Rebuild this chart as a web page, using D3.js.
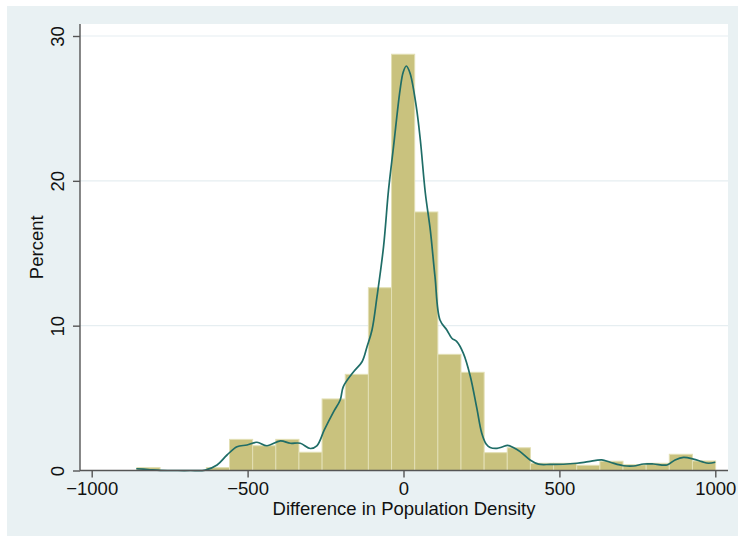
<!DOCTYPE html>
<html>
<head>
<meta charset="utf-8">
<script src="https://cdn.jsdelivr.net/npm/d3@7"></script>
<style>
  body { margin: 0; background: #fff; }
  text { font-family: Arial, 'Liberation Sans', Helvetica, sans-serif; fill: #111; }
</style>
</head>
<body>
<div class="chart-container"></div>
<script>
// histogram: 25 bins from binStart, percent in each
const binStart = -855
const binWidth = 74.24
const binPercent = [0.2, 0, 0, 0.2, 2.15, 1.71, 2.15, 1.26, 4.94, 6.64, 12.62, 28.74, 17.85,
  8.02, 6.78, 1.23, 1.57, 0.5, 0.5, 0.36, 0.64, 0.4, 0.5, 1.12, 0.66]

// kernel density, scaled to percent
const densX = [-857, -819, -780, -732, -684, -636, -598, -566, -534, -502, -470, -438, -395,
  -363, -331, -299, -278, -254, -224, -203, -193, -160, -133, -117, -101, -85, -64, -48, -32,
  -11, -1, 9, 21, 41, 54, 70, 86, 101, 117, 139, 155, 171, 192, 214, 235, 251, 265, 278, 300,
  316, 334, 352, 374, 406, 433, 470, 513, 556, 593, 636, 663, 706, 738, 770, 802, 845, 871,
  898, 930, 957, 978, 1000]
const densY = [0.12, 0.07, 0.01, 0, 0, 0.03, 0.38, 1.07, 1.64, 1.76, 1.95, 1.71, 2.04,
  1.88, 1.88, 1.52, 1.7, 2.8, 4.06, 4.87, 5.79, 6.82, 7.51, 8.55, 9.7, 12.0, 15.46, 19.37, 22.36,
  26.28, 27.5, 27.93, 27.43, 25.12, 22.82, 19.16, 16.6, 13.38, 10.39, 9.7, 9.13, 8.9, 8.09, 6.53,
  4.32, 2.57, 1.83, 1.59, 1.53, 1.62, 1.74, 1.59, 1.3, 0.73, 0.44, 0.42, 0.43, 0.5, 0.61, 0.73,
  0.57, 0.33, 0.31, 0.45, 0.45, 0.38, 0.73, 0.91, 0.79, 0.61, 0.5, 0.57]

const xTicks = [-1000, -500, 0, 500, 1000]
const yTicks = [0, 10, 20, 30]

const width = 738
const height = 539
const plot = { left: 80, right: 728, top: 24, bottom: 470.5 }
const fontSize = 18.5

const svg = d3
  .select('.chart-container')
  .append('svg')
  .attr('width', width)
  .attr('height', height)

const x = d3.scaleLinear().domain([-1000, 1000]).range([91.7, 715.3])
const y = d3.scaleLinear().domain([0, 30]).range([plot.bottom, 36])

// graph region + plot region
svg.append('rect')
  .attr('x', 7).attr('y', 6)
  .attr('width', width - 7).attr('height', 530)
  .attr('fill', '#e9f1f3')
svg.append('rect')
  .attr('x', plot.left).attr('y', plot.top)
  .attr('width', plot.right - plot.left).attr('height', plot.bottom - plot.top)
  .attr('fill', '#fff')

// gridlines
svg.append('g')
  .selectAll('line')
  .data(yTicks.slice(1))
  .enter()
  .append('line')
  .attr('x1', plot.left).attr('x2', plot.right)
  .attr('y1', (d) => y(d)).attr('y2', (d) => y(d))
  .attr('stroke', '#e6eef1')
  .attr('stroke-width', 1.2)

// bars
svg.append('g')
  .selectAll('rect')
  .data(binPercent.map((p, i) => ({ x0: binStart + i * binWidth, p })))
  .enter()
  .filter((d) => d.p > 0)
  .append('rect')
  .attr('x', (d) => x(d.x0))
  .attr('width', (d) => x(d.x0 + binWidth) - x(d.x0))
  .attr('y', (d) => y(d.p))
  .attr('height', (d) => y(0) - y(d.p))
  .attr('fill', '#c9c27e')
  .attr('stroke', '#e2dfb4')
  .attr('stroke-width', 1)

// density line
const line = d3
  .line()
  .x((d) => x(d[0]))
  .y((d) => y(d[1]))
  .curve(d3.curveCatmullRom)

svg.append('path')
  .datum(densX.map((v, i) => [v, densY[i]]))
  .attr('d', line)
  .attr('fill', 'none')
  .attr('stroke', '#1f6d67')
  .attr('stroke-width', 1.7)

// axes
const axisColor = '#555'
const xAxis = svg.append('g').attr('transform', `translate(0,${plot.bottom})`)
  .call(d3.axisBottom(x).tickValues(xTicks).tickSize(7).tickFormat((d) => d3.format('')(d).replace('-', '\u2013')))
xAxis.select('.domain').attr('d', `M${plot.left},0H${plot.right}`)
xAxis.selectAll('line, path').attr('stroke', axisColor).attr('stroke-width', 1.4)
xAxis.selectAll('text').attr('font-size', fontSize).attr('fill', '#111').attr('dy', null).attr('y', 24.5)

const yAxis = svg.append('g').attr('transform', `translate(${plot.left},0)`)
  .call(d3.axisLeft(y).tickValues(yTicks).tickSize(7))
yAxis.select('.domain').attr('d', `M0,${plot.top}V${plot.bottom}`)
yAxis.selectAll('line, path').attr('stroke', axisColor).attr('stroke-width', 1.4)
yAxis.selectAll('text')
  .attr('font-size', fontSize).attr('fill', '#111')
  .attr('x', null).attr('dy', null)
  .attr('text-anchor', 'middle')
  .attr('transform', 'translate(-16,0) rotate(-90)')

// titles
svg.append('text')
  .attr('x', (plot.left + plot.right) / 2)
  .attr('y', 514.5)
  .attr('text-anchor', 'middle')
  .attr('font-size', fontSize)
  .text('Difference in Population Density')

svg.append('text')
  .attr('transform', `translate(43,${(plot.top + plot.bottom) / 2}) rotate(-90)`)
  .attr('text-anchor', 'middle')
  .attr('font-size', fontSize)
  .text('Percent')
</script>
</body>
</html>
